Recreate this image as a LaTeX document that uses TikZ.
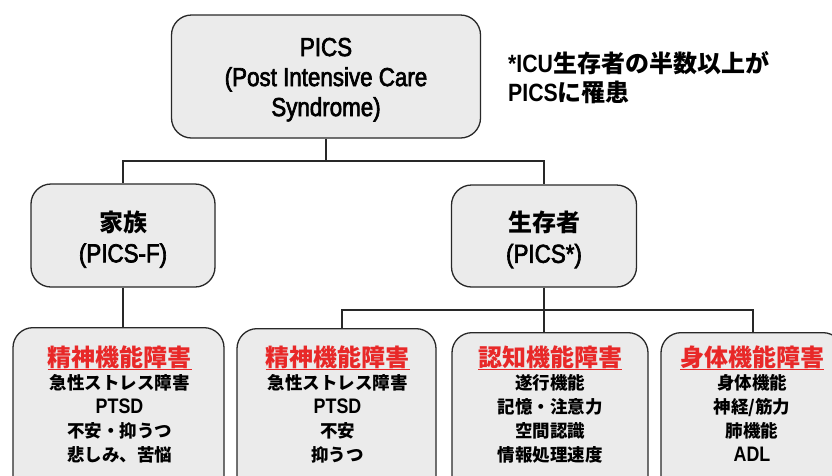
\documentclass[tikz,border=0pt]{standalone}
\usepackage{fontspec}
\setmainfont{Liberation Sans}[FakeStretch=0.85]
\newfontfamily\latm{Liberation Sans}[FakeStretch=0.86, FakeBold=2.5]
\newfontfamily\jp{Noto Sans CJK JP}
\newcommand\J[1]{{\jp\bfseries #1}}
\definecolor{hred}{RGB}{232,40,40}
\definecolor{boxgray}{RGB}{235,235,235}
\definecolor{edge}{RGB}{40,40,40}
\newcommand\redul[1]{\setbox0\hbox{#1}\rlap{\color{hred}\rule[-3.5pt]{\wd0}{1.8pt}}\box0}
\newcommand\latb[1]{{\rmfamily\bfseries\fontsize{21}{24}\selectfont #1}}
\tikzset{
  box/.style={draw=edge, line width=1.3pt, fill=boxgray, rounded corners=20pt, inner sep=0pt},
  conn/.style={draw=edge, line width=1.2pt},
  txt/.style={align=center, inner sep=0pt},
  body/.style={txt, anchor=north, font=\jp\bfseries\fontsize{17.5}{24}\selectfont},
}
\newcommand\head[1]{{\fontsize{24}{24}\selectfont\color{hred}\redul{#1}}\\[-1pt]}
\begin{document}
\begin{tikzpicture}[x=1pt,y=-1pt]
\clip (0,0) rectangle (832,475);
\fill[white] (0,0) rectangle (832,475);
% top box
\node[box, minimum width=309pt, minimum height=123pt, align=center,
      font=\latm\fontsize{26}{30}\selectfont] (top) at (326,76.5)
      {\rule{0pt}{24.5pt}PICS\\(Post Intensive Care\\Syndrome)};
\node[txt, anchor=north west, align=left, font=\bfseries\fontsize{25}{29}\selectfont] (note) at (508,51)
      {*ICU\J{\fontsize{24}{29}\selectfont 生存者の半数以上が}\\PICS\J{\fontsize{24}{29}\selectfont に罹患}};
% second level
\node[box, minimum width=184pt, minimum height=103pt, align=center,
      font=\latm\fontsize{26}{31}\selectfont] (fam) at (123,235.5)
      {\rule{0pt}{28pt}\J{\fontsize{24}{31}\selectfont 家族}\\(PICS-F)};
\node[box, minimum width=185pt, minimum height=102pt, align=center,
      font=\latm\fontsize{26}{31}\selectfont] (surv) at (544,236)
      {\rule{0pt}{28pt}\J{\fontsize{24}{31}\selectfont 生存者}\\(PICS*)};
% bottom boxes
\node[box, minimum width=211pt, minimum height=170pt, anchor=north] (b1) at (118.5,327) {};
\node[box, minimum width=199pt, minimum height=170pt, anchor=north] (b2) at (336.5,328) {};
\node[box, minimum width=196pt, minimum height=170pt, anchor=north] (b3) at (550,332) {};
\node[box, minimum width=182pt, minimum height=170pt, anchor=north] (b4) at (752,332) {};
\node[body] (t1) at (119.5,346) {\head{精神機能障害}急性ストレス障害\\\latb{PTSD}\\不安・抑うつ\\悲しみ、苦悩};
\node[body] (t2) at (337.5,346) {\head{精神機能障害}急性ストレス障害\\\latb{PTSD}\\不安\\抑うつ};
\node[body] (t3) at (550,346) {\head{認知機能障害}遂行機能\\記憶・注意力\\空間認識\\情報処理速度};
\node[body] (t4) at (752,346) {\head{身体機能障害}身体機能\\神経/筋力\\肺機能\\\latb{ADL}};
% connectors
\coordinate (busA) at (326,161);
\coordinate (busB) at (544,310);
\draw[conn] (top.south) -- (busA) -| (fam.north);
\draw[conn] (busA) -| (surv.north);
\draw[conn] (fam.south) -- (fam.south |- b1.north);
\draw[conn] (surv.south) -- (surv.south |- b3.north);
\draw[conn] (busB) -| ([xshift=5.5pt]b2.north);
\draw[conn] (busB) -| ([xshift=1pt]b4.north);
\end{tikzpicture}
\end{document}
